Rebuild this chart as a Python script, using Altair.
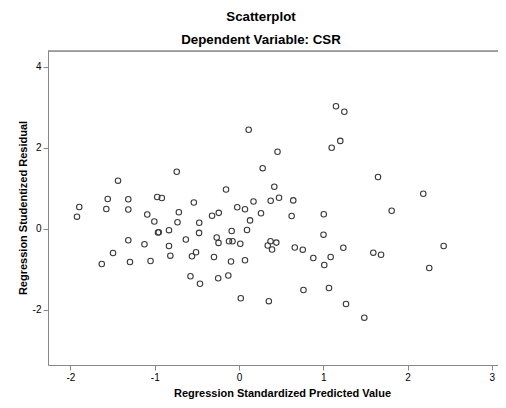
import altair as alt
import pandas as pd

# Regression standardized predicted value (x) and studentized residual (y)
x_vals = [-1.923, -1.896, -1.629, -1.575, -1.558, -1.495, -1.436, -1.314, -1.314, -1.314,
          -1.294, -1.122, -1.089, -1.050, -1.005, -0.971, -0.916, -0.961, -0.952, -0.831,
          -0.831, -0.815, -0.739, -0.730, -0.714, -0.631, -0.576, -0.558, -0.536, -0.510,
          -0.472, -0.474, -0.463, -0.320, -0.240, -0.297, -0.265, -0.243, -0.247, -0.154,
          -0.127, -0.119, -0.077, -0.087, -0.095, -0.021, 0.015, 0.071, 0.095, 0.071,
          0.131, 0.172, 0.021, 0.261, 0.115, 0.281, 0.457, 0.419, 0.376, 0.475,
          0.644, 0.625, 0.374, 0.443, 0.341, 0.392, 0.662, 0.757, 0.354, 0.765,
          1.006, 1.812, 1.003, 0.882, 1.088, 1.012, 1.238, 1.594, 1.686, 2.429,
          2.258, 1.068, 1.270, 1.487, 1.151, 1.250, 1.202, 1.100, 1.650, 2.187]
y_vals = [0.297, 0.536, -0.873, 0.487, 0.734, -0.601, 1.187, 0.727, 0.475, -0.287,
          -0.823, -0.386, 0.351, -0.799, 0.178, 0.784, 0.759, -0.094, -0.087, -0.037,
          -0.428, -0.667, 1.409, 0.158, 0.405, -0.267, -1.177, -0.682, 0.648, -0.583,
          0.146, -0.104, -1.362, 0.321, 0.391, -0.700, -0.218, -0.351, -1.224, 0.969,
          -1.157, -0.311, -0.311, -0.057, -0.811, 0.529, -0.371, 0.480, -0.032, -0.779,
          0.205, 0.672, -1.721, 0.381, 2.447, 1.496, 1.901, 1.038, 0.692, 0.764,
          0.700, 0.314, -0.309, -0.344, -0.415, -0.514, -0.465, -0.519, -1.792, -1.515,
          0.356, 0.443, -0.148, -0.724, -0.700, -0.897, -0.470, -0.593, -0.643, -0.428,
          -0.972, -1.466, -1.862, -2.200, 3.028, 2.892, 2.171, 2.002, 1.278, 0.865]

x_ticks = [-2, -1, 0, 1, 2, 3]
y_ticks = [-2, 0, 2, 4]

df = pd.DataFrame({"x": x_vals, "y": y_vals})

FONT = "Liberation Sans"
W, H = 450, 314
label_expr = "datum.value < 0 ? '-' + abs(datum.value) : '' + datum.value"

points = alt.Chart(df).mark_point(
    shape="circle", filled=False, size=30, strokeWidth=1.1, color="#3a3a3a", opacity=1
).encode(
    x=alt.X("x:Q",
            scale=alt.Scale(domain=[-2.267, 3.074], nice=False, zero=False),
            axis=alt.Axis(values=x_ticks, title="Regression Standardized Predicted Value",
                          grid=False, tickSize=5, labelPadding=2, labelExpr=label_expr,
                          titleX=234, titleY=31, titleBaseline="alphabetic")),
    y=alt.Y("y:Q",
            scale=alt.Scale(domain=[-3.370, 4.393], nice=False, zero=False),
            axis=alt.Axis(values=y_ticks, title="Regression Studentized Residual",
                          grid=False, tickSize=5, labelPadding=2, labelExpr=label_expr,
                          titleX=-25, titleY=H / 2 - 0.5, titleAngle=270, titleBaseline="middle")),
)

top_border = alt.Chart(pd.DataFrame({"a": [0]})).mark_rule(
    color="#555555", strokeWidth=1
).encode(x=alt.value(0), x2=alt.value(W), y=alt.value(0))

chart = alt.layer(points, top_border).properties(
    width=W, height=H,
    title=alt.TitleParams(
        text="Scatterplot", subtitle="Dependent Variable: CSR",
        font=FONT, fontSize=13.3, fontWeight="bold", color="#000000",
        subtitleFont=FONT, subtitleFontSize=13.3, subtitleFontWeight="bold",
        subtitleColor="#000000", subtitlePadding=10, offset=4, dx=-12, anchor="middle"
    ),
    autosize=alt.AutoSizeParams(type="none"),
    padding={"left": 40, "top": 43, "right": 0, "bottom": 35},
).configure_view(
    fill="#f0f0f0", stroke=None
).configure_axis(
    domainColor="#555555", domainWidth=1, tickColor="#555555", tickWidth=1,
    labelFont=FONT, labelFontSize=9, labelColor="#222222",
    titleFont=FONT, titleFontSize=12.4, titleFontWeight="bold", titleColor="#000000",
).configure(background="#ffffff")

chart.save("out.html", embed_options={"renderer": "svg", "actions": False})
